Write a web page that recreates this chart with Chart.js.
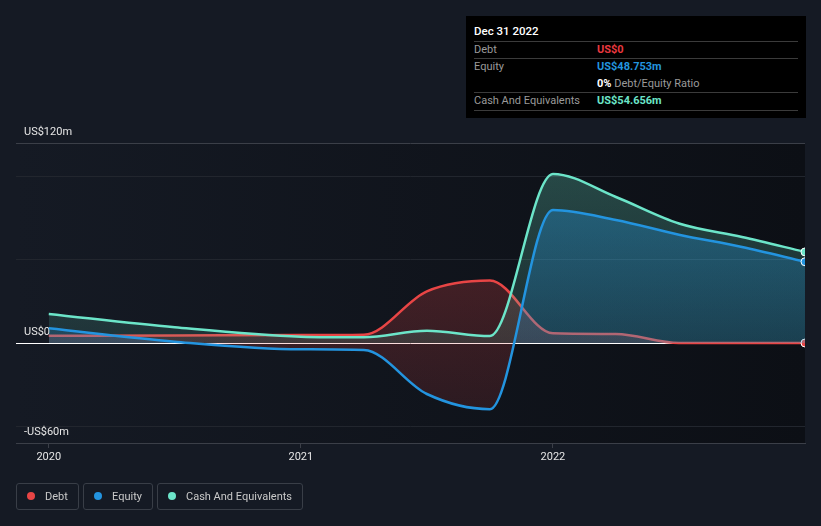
<!DOCTYPE html>
<html>
<head>
<meta charset="utf-8">
<script src="https://cdn.jsdelivr.net/npm/chart.js@4.4.0/dist/chart.umd.min.js"></script>
<style>
  body { margin: 0; background: #151a24; font-family: Roboto, "Noto Sans", sans-serif; }
  #wrap { position: relative; width: 821px; height: 526px; overflow: hidden; }
  #grafica { position: absolute; left: 0; top: 0; }
  .tip { position: absolute; left: 466px; top: 16px; width: 340px; height: 102px; background: #000; font-size: 11px; color: #9a9a9a; }
  .tip .t { position: absolute; left: 8px; top: 8px; color: #fff; font-weight: 500; font-size: 11.5px; }
  .tip .sep { position: absolute; left: 8px; width: 324px; height: 1px; background: #3b3b3b; }
  .tip .l { position: absolute; left: 8px; }
  .tip .v { position: absolute; left: 131px; font-weight: bold; }
  .lg { position: absolute; top: 483px; height: 27px; box-sizing: border-box; border: 1px solid #393e47; border-radius: 3px;
        font-size: 11px; color: #c9c9c9; line-height: 25px; padding-left: 28px; }
  .lg i { position: absolute; left: 10px; top: 8px; width: 8px; height: 8px; border-radius: 50%; }
</style>
</head>
<body>
<div id="wrap">
  <canvas id="grafica" width="821" height="526"></canvas>

  <div class="tip">
    <span class="t">Dec 31 2022</span>
    <div class="sep" style="top:25px"></div>
    <span class="l" style="top:27px">Debt</span><span class="v" style="top:27px;color:#e8383f">US$0</span>
    <div class="sep" style="top:42px"></div>
    <span class="l" style="top:44px">Equity</span><span class="v" style="top:44px;color:#2394df">US$48.753m</span>
    <span class="v" style="top:61px;color:#fff">0%<span style="color:#9a9a9a;font-weight:normal"> Debt/Equity Ratio</span></span>
    <div class="sep" style="top:76px"></div>
    <span class="l" style="top:78px">Cash And Equivalents</span><span class="v" style="top:78px;color:#6ce5c9">US$54.656m</span>
    <div class="sep" style="top:94px"></div>
  </div>

  <div class="lg" style="left:16px;width:63px"><i style="background:#e84545"></i>Debt</div>
  <div class="lg" style="left:83px;width:70px"><i style="background:#2394df"></i>Equity</div>
  <div class="lg" style="left:157px;width:146px"><i style="background:#6ce5c9"></i>Cash And Equivalents</div>
</div>

<script>
// datos (US$ millones), fechas en años decimales
const fechas   = [2020.0, 2020.5, 2021.0, 2021.25, 2021.5, 2021.75, 2022.0, 2022.25, 2022.5, 2022.75, 2023.0];
const deuda    = [4.3, 4.5, 4.8, 5.0, 31, 37.5, 5.8, 5.4, 0, 0, 0];
const equity   = [8.8, 0.8, -3.8, -4.2, -30.6, -39.7, 79.8, 73.8, 65, 57.6, 48.753];
const efectivo = [17.4, 9.4, 3.8, 3.4, 7.3, 4.2, 101.4, 87.6, 71.7, 63.6, 54.656];

const xTicks = [2020, 2021, 2022];
const yTicks = [-60, -50, 0, 50, 100, 120];
const yLabels = { '-60': '-US$60m', '0': 'US$0', '120': 'US$120m' };

const ROJO = '232,69,69', AZUL = '35,148,223', VERDE = '108,229,201';
const ultimo = fechas.length - 1;

function serie(vals) {
  return vals.map((v, i) => ({ x: fechas[i], y: v }));
}

function linea(label, vals, rgb, order) {
  return {
    label: label,
    data: serie(vals),
    borderColor: 'rgb(' + rgb + ')',
    borderWidth: 2.5,
    backgroundColor: 'rgba(' + rgb + ',0.2)',
    fill: 'origin',
    cubicInterpolationMode: 'monotone',
    pointRadius: c => c.dataIndex === ultimo ? 4 : 0,
    pointBackgroundColor: 'rgb(' + rgb + ')',
    pointBorderColor: '#fff',
    pointBorderWidth: 1,
    clip: { left: 5, top: 5, right: 0, bottom: 5 },
    order: order
  };
}

const fondo = {
  id: 'fondo',
  beforeDraw(c) {
    const a = c.chartArea, ctx = c.ctx;
    const g = ctx.createLinearGradient(a.left, 0, a.right, 0);
    g.addColorStop(0, '#151a24');
    g.addColorStop(1, '#0c0f15');
    ctx.save();
    ctx.fillStyle = g;
    ctx.fillRect(a.left, a.top, a.right - a.left, a.bottom - a.top);
    ctx.restore();
  }
};

const config = {
  type: 'line',
  data: {
    datasets: [
      linea('Debt', deuda, ROJO, 3),
      linea('Equity', equity, AZUL, 1),
      linea('Cash And Equivalents', efectivo, VERDE, 2)
    ]
  },
  options: {
    responsive: false,
    animation: false,
    devicePixelRatio: 1,
    layout: { padding: { left: 16, right: 16, top: 143, bottom: 53 } },
    plugins: { legend: { display: false }, tooltip: { enabled: false } },
    events: [],
    scales: {
      x: {
        type: 'linear',
        min: 2019.87,
        max: 2023.0,
        afterBuildTicks: s => { s.ticks = xTicks.map(v => ({ value: v })); },
        afterFit: s => { s.height = 30; },
        grid: { drawOnChartArea: false, drawTicks: true, tickLength: 5, tickColor: '#3b3f48' },
        border: { display: true, color: '#3b3f48' },
        ticks: { color: '#e6e6e6', font: { family: 'Roboto', size: 11 }, padding: 3, maxRotation: 0,
                 callback: v => String(v) }
      },
      y: {
        min: -60,
        max: 120,
        afterBuildTicks: s => { s.ticks = yTicks.map(v => ({ value: v })); },
        afterFit: s => { s.width = 0; },
        grid: {
          drawTicks: false,
          color: c => {
            const v = c.tick.value;
            if (v === 0) return '#ffffff';
            if (v === 120 || v === -60) return '#3b3f48';
            return '#22262e';
          },
          lineWidth: 1
        },
        border: { display: false },
        ticks: {
          mirror: true,
          padding: 8,
          labelOffset: -11,
          color: '#e6e6e6',
          font: { family: 'Roboto', size: 11 },
          callback: v => yLabels[String(v)] || ''
        }
      }
    }
  },
  plugins: [fondo]
};

const ctx = document.getElementById('grafica');
const migrafica = new Chart(ctx, config);

// degradados verticales para los rellenos
const area = migrafica.chartArea;
function degradado(rgb, arriba, abajo) {
  const g = migrafica.ctx.createLinearGradient(0, area.top, 0, area.bottom);
  g.addColorStop(0, 'rgba(' + rgb + ',' + arriba + ')');
  g.addColorStop(1, 'rgba(' + rgb + ',' + abajo + ')');
  return g;
}
const ds = migrafica.data.datasets;
ds[0].fill = { target: 'origin', above: degradado(ROJO, 0.34, 0.1), below: degradado(ROJO, 0.34, 0.1) };
ds[1].fill = { target: 'origin', above: degradado(AZUL, 0.4, 0.1), below: degradado(ROJO, 0.34, 0.1) };
ds[2].fill = { target: 'origin', above: degradado(VERDE, 0.28, 0.05), below: degradado(VERDE, 0.28, 0.05) };
migrafica.update('none');
</script>
</body>
</html>
